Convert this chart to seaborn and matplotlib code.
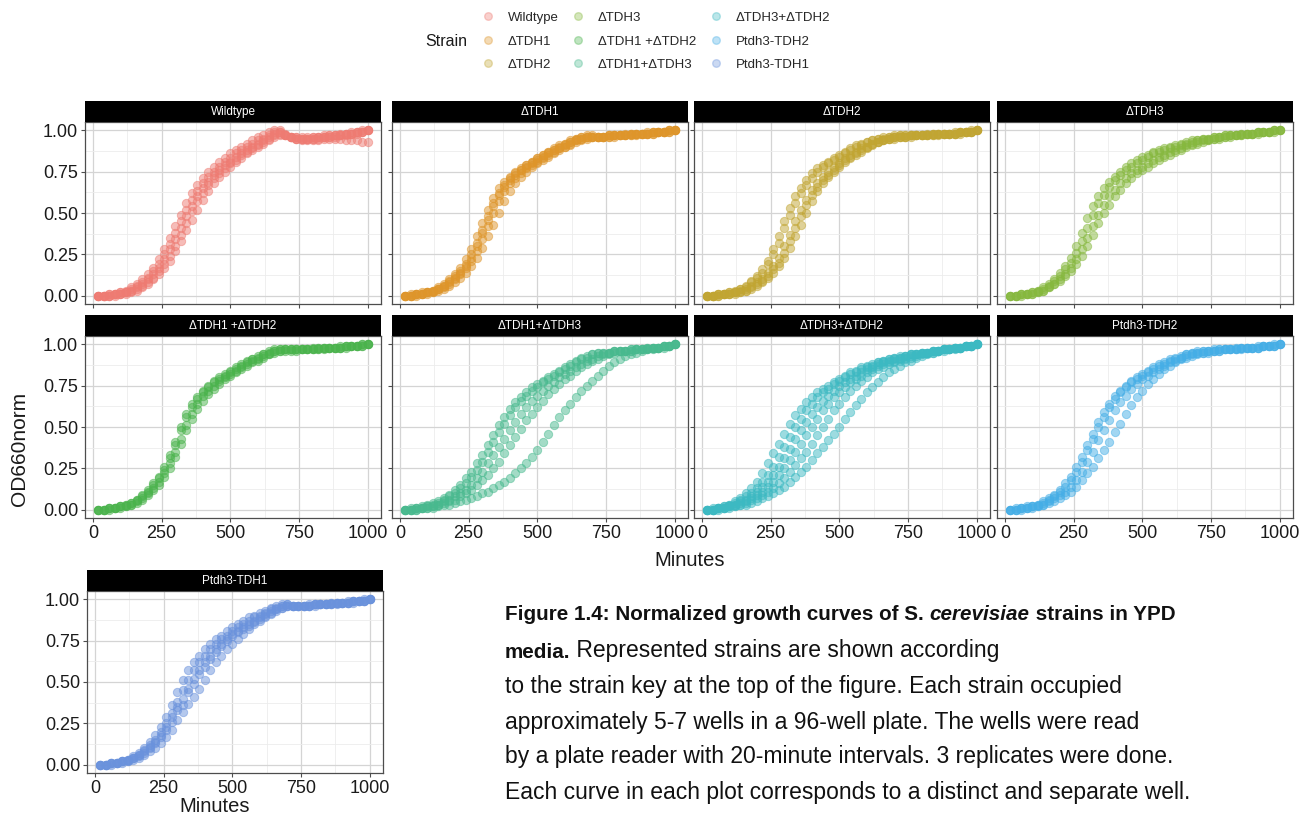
import pandas as pd
import seaborn as sns
import matplotlib.pyplot as plt
from matplotlib.lines import Line2D
from matplotlib.ticker import MultipleLocator, FormatStrFormatter

# Ablesezeitpunkte (alle 20 Minuten)
minutes = list(range(20, 1001, 20))

strains = [
    "Wildtype", "ΔTDH1", "ΔTDH2",
    "ΔTDH3", "ΔTDH1 +ΔTDH2", "ΔTDH1+ΔTDH3",
    "ΔTDH3+ΔTDH2", "Ptdh3-TDH2", "Ptdh3-TDH1",
]
colors = ["#EE7B72", "#DE952A", "#C1A532", "#86B83E", "#4AB34C",
          "#48B98E", "#3CB9C2", "#45AEE6", "#6A92DC"]

# OD660norm je Well
wildtype = [
    [.00, .00, .00, .01, .01, .02, .03, .05, .07, .10,
     .13, .17, .22, .28, .34, .41, .48, .54, .60, .65,
     .69, .73, .76, .79, .81, .84, .86, .88, .90, .92,
     .94, .96, .98, .99, .97, .96, .95, .95, .95, .95,
     .96, .96, .96, .97, .97, .98, .98, .99, .99, 1.0],
    [.00, .00, .01, .01, .02, .03, .05, .07, .10, .13,
     .17, .22, .28, .35, .42, .49, .56, .62, .67, .71,
     .75, .78, .81, .83, .86, .88, .90, .92, .94, .96,
     .97, .99, 1.0, .99, .97, .96, .96, .96, .96, .96,
     .96, .97, .97, .97, .98, .98, .99, .99, 1.0, 1.0],
    [.00, .00, .00, .00, .01, .01, .02, .03, .05, .07,
     .10, .13, .17, .21, .27, .33, .40, .46, .52, .58,
     .63, .68, .72, .75, .78, .81, .83, .86, .88, .90,
     .92, .94, .96, .97, .97, .96, .95, .94, .94, .94,
     .94, .95, .95, .95, .95, .94, .94, .94, .93, .93],
    [.00, .00, .00, .01, .01, .02, .03, .04, .06, .08,
     .11, .15, .19, .24, .30, .37, .44, .51, .57, .62,
     .67, .71, .74, .77, .80, .82, .85, .87, .89, .91,
     .93, .95, .97, .98, .97, .96, .95, .95, .95, .95,
     .95, .96, .96, .96, .97, .97, .98, .98, .99, 1.0],
    [.00, .00, .01, .01, .02, .02, .04, .06, .08, .11,
     .15, .19, .25, .31, .38, .45, .52, .58, .63, .68,
     .72, .75, .78, .81, .83, .86, .88, .90, .92, .94,
     .95, .97, .99, 1.0, .98, .96, .96, .95, .95, .96,
     .96, .96, .97, .97, .97, .98, .98, .99, .99, 1.0],
]
tdh1 = [
    [.00, .00, .01, .01, .02, .03, .04, .06, .08, .11,
     .14, .18, .23, .30, .38, .46, .54, .61, .66, .70,
     .73, .76, .78, .80, .82, .84, .86, .88, .89, .91,
     .93, .94, .95, .96, .96, .96, .96, .97, .97, .97,
     .97, .98, .98, .98, .98, .99, .99, .99, 1.0, 1.0],
    [.00, .01, .01, .02, .02, .03, .05, .07, .10, .13,
     .17, .22, .28, .36, .44, .52, .59, .65, .69, .72,
     .75, .77, .79, .81, .83, .85, .87, .89, .91, .92,
     .94, .95, .96, .97, .97, .96, .96, .97, .97, .97,
     .97, .98, .98, .98, .98, .99, .99, .99, 1.0, 1.0],
    [.00, .00, .01, .01, .02, .02, .04, .05, .07, .10,
     .13, .17, .21, .27, .34, .42, .50, .57, .63, .68,
     .71, .74, .77, .79, .81, .83, .85, .87, .89, .90,
     .92, .94, .95, .96, .96, .96, .96, .96, .97, .97,
     .97, .97, .98, .98, .98, .98, .99, .99, .99, 1.0],
    [.00, .00, .00, .01, .01, .02, .03, .04, .06, .08,
     .11, .14, .18, .23, .29, .36, .43, .50, .57, .63,
     .68, .72, .75, .78, .80, .82, .84, .86, .88, .90,
     .91, .93, .94, .95, .96, .96, .96, .96, .96, .97,
     .97, .97, .97, .98, .98, .98, .99, .99, .99, 1.0],
    [.00, .00, .01, .01, .02, .03, .04, .06, .09, .12,
     .15, .19, .25, .32, .40, .48, .56, .62, .67, .71,
     .74, .76, .79, .81, .83, .85, .87, .88, .90, .92,
     .93, .95, .96, .96, .96, .96, .96, .97, .97, .97,
     .98, .98, .98, .98, .99, .99, .99, .99, 1.0, 1.0],
]
tdh2 = [
    [.00, .00, .01, .01, .02, .03, .04, .06, .09, .12,
     .16, .21, .28, .36, .45, .53, .60, .65, .70, .74,
     .77, .79, .81, .83, .85, .87, .89, .91, .92, .93,
     .94, .95, .96, .96, .97, .97, .97, .97, .97, .97,
     .98, .98, .98, .98, .98, .99, .99, .99, 1.0, 1.0],
    [.00, .00, .01, .01, .02, .02, .04, .05, .08, .11,
     .14, .19, .25, .32, .41, .49, .56, .62, .67, .71,
     .75, .78, .80, .82, .84, .86, .88, .90, .91, .93,
     .94, .95, .95, .96, .96, .97, .97, .97, .97, .97,
     .97, .98, .98, .98, .98, .98, .99, .99, .99, 1.0],
    [.00, .00, .00, .01, .01, .02, .02, .03, .05, .07,
     .09, .12, .16, .20, .26, .33, .41, .48, .55, .61,
     .66, .70, .73, .76, .79, .82, .84, .86, .88, .90,
     .92, .93, .94, .95, .96, .96, .96, .97, .97, .97,
     .97, .97, .98, .98, .98, .98, .99, .99, .99, 1.0],
    [.00, .00, .00, .01, .01, .01, .02, .03, .04, .06,
     .08, .11, .14, .18, .23, .29, .36, .43, .50, .57,
     .63, .68, .72, .75, .78, .81, .83, .85, .87, .89,
     .91, .93, .94, .95, .95, .96, .96, .96, .97, .97,
     .97, .97, .97, .98, .98, .98, .98, .99, .99, 1.0],
    [.00, .00, .01, .01, .01, .02, .03, .04, .06, .08,
     .10, .14, .18, .23, .30, .37, .45, .52, .58, .64,
     .68, .72, .75, .78, .80, .83, .85, .87, .89, .90,
     .92, .93, .94, .95, .96, .96, .96, .97, .97, .97,
     .97, .98, .98, .98, .98, .98, .99, .99, .99, 1.0],
]
tdh3 = [
    [.00, .00, .01, .01, .02, .03, .05, .07, .10, .14,
     .18, .23, .30, .38, .47, .54, .60, .65, .69, .72,
     .75, .78, .80, .82, .84, .85, .87, .88, .89, .90,
     .91, .92, .93, .94, .94, .95, .95, .96, .96, .97,
     .97, .97, .98, .98, .98, .99, .99, .99, 1.0, 1.0],
    [.00, .00, .01, .01, .02, .03, .04, .06, .09, .12,
     .16, .20, .26, .33, .41, .49, .56, .61, .66, .70,
     .73, .76, .78, .80, .82, .84, .86, .87, .88, .89,
     .90, .91, .92, .93, .94, .95, .95, .96, .96, .97,
     .97, .97, .98, .98, .98, .99, .99, .99, 1.0, 1.0],
    [.00, .00, .00, .01, .01, .02, .03, .05, .07, .09,
     .12, .15, .19, .24, .30, .37, .44, .50, .55, .60,
     .64, .68, .71, .74, .76, .78, .80, .82, .84, .85,
     .87, .88, .90, .91, .92, .93, .94, .95, .95, .96,
     .96, .97, .97, .98, .98, .98, .99, .99, .99, 1.0],
    [.00, .00, .01, .01, .01, .02, .03, .05, .07, .10,
     .13, .17, .22, .28, .35, .42, .49, .55, .60, .64,
     .68, .71, .74, .76, .78, .80, .82, .84, .85, .87,
     .88, .89, .91, .92, .93, .94, .94, .95, .96, .96,
     .97, .97, .97, .98, .98, .99, .99, .99, 1.0, 1.0],
]
tdh1_tdh2 = [
    [.00, .00, .01, .01, .02, .03, .04, .06, .08, .11,
     .15, .19, .24, .31, .39, .48, .56, .62, .67, .71,
     .74, .77, .79, .81, .83, .85, .87, .89, .91, .92,
     .94, .95, .96, .97, .97, .97, .97, .97, .97, .97,
     .98, .98, .98, .98, .98, .99, .99, .99, 1.0, 1.0],
    [.00, .00, .01, .01, .02, .02, .03, .05, .07, .10,
     .13, .17, .22, .28, .35, .43, .51, .58, .64, .69,
     .72, .75, .78, .80, .82, .84, .86, .88, .90, .91,
     .93, .94, .96, .96, .97, .97, .97, .97, .97, .97,
     .97, .98, .98, .98, .98, .99, .99, .99, .99, 1.0],
    [.00, .00, .00, .01, .01, .02, .03, .04, .06, .09,
     .12, .15, .20, .25, .32, .40, .48, .55, .61, .66,
     .70, .73, .76, .79, .81, .83, .85, .87, .89, .90,
     .92, .94, .95, .96, .96, .96, .96, .97, .97, .97,
     .97, .97, .98, .98, .98, .98, .99, .99, .99, 1.0],
    [.00, .00, .01, .01, .02, .03, .04, .06, .09, .12,
     .16, .20, .26, .33, .41, .50, .58, .64, .68, .72,
     .75, .78, .80, .82, .84, .86, .88, .90, .91, .93,
     .94, .96, .97, .97, .97, .97, .97, .97, .97, .98,
     .98, .98, .98, .98, .99, .99, .99, .99, 1.0, 1.0],
]
tdh1_tdh3 = [
    [.00, .01, .01, .02, .03, .04, .05, .07, .09, .12,
     .15, .19, .23, .28, .33, .39, .45, .51, .56, .61,
     .65, .68, .71, .74, .76, .78, .80, .82, .84, .86,
     .88, .90, .92, .93, .94, .95, .95, .95, .96, .96,
     .96, .96, .97, .97, .97, .98, .98, .99, .99, 1.0],
    [.00, .00, .01, .01, .02, .03, .04, .06, .08, .10,
     .13, .16, .20, .24, .29, .35, .41, .47, .52, .57,
     .62, .66, .69, .72, .74, .77, .79, .81, .83, .85,
     .87, .89, .91, .92, .94, .95, .95, .95, .96, .96,
     .96, .96, .97, .97, .97, .98, .98, .99, .99, 1.0],
    [.00, .00, .01, .01, .02, .02, .03, .05, .06, .08,
     .10, .12, .15, .19, .23, .28, .33, .38, .43, .48,
     .53, .58, .62, .66, .69, .72, .75, .77, .80, .82,
     .84, .86, .88, .90, .91, .93, .94, .95, .96, .96,
     .96, .97, .97, .97, .98, .98, .98, .99, .99, 1.0],
    [.00, .00, .00, .01, .01, .02, .03, .04, .05, .06,
     .08, .10, .12, .15, .18, .21, .25, .29, .34, .39,
     .44, .49, .54, .58, .62, .66, .70, .73, .76, .79,
     .81, .84, .86, .88, .90, .91, .93, .94, .95, .96,
     .96, .97, .97, .97, .98, .98, .98, .99, .99, 1.0],
    [.00, .00, .00, .01, .01, .01, .02, .03, .03, .04,
     .05, .06, .07, .08, .10, .11, .13, .15, .17, .19,
     .22, .25, .28, .32, .36, .41, .46, .51, .56, .60,
     .64, .68, .72, .75, .78, .81, .84, .87, .89, .91,
     .93, .94, .95, .96, .97, .97, .98, .98, .99, 1.0],
]
tdh3_tdh2 = [
    [.00, .01, .01, .02, .03, .05, .07, .10, .13, .17,
     .22, .28, .34, .40, .46, .52, .57, .61, .65, .68,
     .71, .73, .75, .77, .79, .81, .83, .84, .86, .87,
     .88, .89, .90, .91, .92, .93, .93, .94, .94, .95,
     .95, .96, .96, .97, .97, .98, .98, .99, .99, 1.0],
    [.00, .00, .01, .02, .03, .04, .06, .08, .10, .13,
     .17, .21, .26, .32, .38, .44, .50, .55, .60, .64,
     .68, .71, .73, .76, .78, .80, .82, .83, .85, .86,
     .87, .89, .90, .91, .92, .92, .93, .94, .94, .95,
     .95, .96, .96, .97, .97, .98, .98, .99, .99, 1.0],
    [.00, .00, .01, .01, .02, .03, .05, .06, .08, .11,
     .14, .17, .21, .26, .31, .37, .43, .48, .53, .58,
     .62, .66, .69, .72, .75, .77, .79, .81, .83, .85,
     .86, .88, .89, .90, .91, .92, .93, .94, .94, .95,
     .95, .96, .96, .97, .97, .98, .98, .99, .99, 1.0],
    [.00, .00, .01, .01, .02, .03, .04, .05, .07, .09,
     .11, .14, .17, .21, .25, .30, .35, .40, .45, .50,
     .55, .60, .64, .68, .71, .74, .77, .79, .81, .83,
     .85, .87, .88, .89, .90, .91, .92, .93, .94, .95,
     .95, .96, .96, .97, .97, .98, .98, .99, .99, 1.0],
    [.00, .00, .01, .01, .02, .02, .03, .04, .06, .07,
     .09, .11, .13, .16, .19, .23, .27, .31, .35, .40,
     .45, .50, .55, .60, .64, .68, .72, .75, .78, .80,
     .83, .85, .86, .88, .89, .90, .91, .92, .93, .94,
     .95, .95, .96, .97, .97, .98, .98, .99, .99, 1.0],
    [.00, .00, .00, .01, .01, .02, .03, .03, .04, .05,
     .07, .08, .10, .12, .14, .17, .20, .23, .26, .30,
     .34, .38, .42, .46, .50, .55, .59, .63, .67, .71,
     .74, .77, .80, .83, .85, .87, .89, .90, .92, .93,
     .94, .95, .96, .96, .97, .97, .98, .99, .99, 1.0],
]
ptdh3_tdh2 = [
    [.00, .00, .01, .01, .02, .03, .04, .06, .08, .11,
     .14, .18, .23, .29, .36, .43, .50, .56, .62, .67,
     .71, .74, .77, .79, .81, .83, .85, .87, .88, .90,
     .91, .92, .94, .95, .95, .96, .96, .96, .97, .97,
     .97, .97, .98, .98, .98, .98, .99, .99, .99, 1.0],
    [.00, .01, .01, .02, .02, .03, .05, .07, .09, .12,
     .16, .20, .26, .32, .39, .46, .53, .59, .64, .69,
     .72, .75, .78, .80, .82, .84, .86, .88, .89, .91,
     .92, .93, .94, .95, .96, .96, .96, .97, .97, .97,
     .97, .98, .98, .98, .98, .99, .99, .99, 1.0, 1.0],
    [.00, .00, .01, .01, .02, .02, .03, .05, .07, .09,
     .11, .14, .18, .23, .29, .35, .42, .48, .54, .60,
     .65, .69, .73, .76, .79, .81, .83, .85, .87, .89,
     .90, .92, .93, .94, .95, .95, .96, .96, .96, .97,
     .97, .97, .98, .98, .98, .98, .99, .99, .99, 1.0],
    [.00, .00, .00, .01, .01, .02, .03, .04, .05, .07,
     .09, .11, .14, .18, .22, .26, .31, .36, .41, .47,
     .52, .58, .63, .68, .72, .76, .79, .82, .85, .87,
     .89, .91, .92, .93, .94, .95, .95, .96, .96, .97,
     .97, .97, .97, .98, .98, .98, .99, .99, .99, 1.0],
]
ptdh3_tdh1 = [
    [.00, .00, .01, .01, .02, .03, .05, .07, .10, .14,
     .18, .23, .29, .36, .44, .51, .57, .62, .66, .70,
     .73, .76, .78, .81, .83, .85, .87, .89, .90, .92,
     .93, .95, .96, .97, .97, .96, .96, .96, .97, .97,
     .97, .97, .98, .98, .98, .99, .99, .99, 1.0, 1.0],
    [.00, .00, .01, .01, .02, .03, .04, .06, .09, .12,
     .15, .20, .25, .31, .38, .45, .51, .57, .62, .66,
     .70, .73, .76, .78, .81, .83, .85, .87, .89, .90,
     .92, .94, .95, .96, .97, .96, .96, .96, .96, .97,
     .97, .97, .97, .98, .98, .98, .99, .99, .99, 1.0],
    [.00, .00, .01, .01, .02, .02, .04, .05, .07, .10,
     .13, .17, .21, .26, .33, .40, .46, .52, .57, .62,
     .66, .70, .73, .76, .79, .81, .83, .85, .87, .89,
     .91, .93, .94, .96, .96, .96, .96, .96, .96, .97,
     .97, .97, .97, .98, .98, .98, .99, .99, .99, 1.0],
    [.00, .00, .00, .01, .01, .02, .03, .04, .06, .08,
     .10, .13, .17, .21, .27, .32, .37, .41, .46, .51,
     .57, .62, .66, .70, .73, .76, .79, .82, .85, .87,
     .89, .91, .93, .95, .96, .96, .96, .96, .96, .96,
     .97, .97, .97, .97, .98, .98, .98, .99, .99, 1.0],
    [.00, .00, .01, .01, .02, .03, .04, .06, .08, .11,
     .14, .18, .23, .29, .35, .36, .44, .49, .55, .59,
     .64, .68, .72, .75, .78, .80, .82, .84, .86, .88,
     .90, .92, .94, .95, .96, .96, .96, .96, .96, .97,
     .97, .97, .98, .98, .98, .98, .99, .99, .99, 1.0],
]
curves = [wildtype, tdh1, tdh2, tdh3, tdh1_tdh2, tdh1_tdh3,
          tdh3_tdh2, ptdh3_tdh2, ptdh3_tdh1]

# Long-Format
records = []
for strain, wells in zip(strains, curves):
    for w, vals in enumerate(wells):
        assert len(vals) == len(minutes), (strain, w)
        for m, v in zip(minutes, vals):
            records.append({"Strain": strain, "Well": w, "Minutes": m, "OD660norm": v})
df = pd.DataFrame(records)

sns.set_style("white")
plt.rcParams["font.family"] = ["Liberation Sans", "DejaVu Sans"]

W, H = 1313, 816
fig = plt.figure(figsize=(W / 100, H / 100), dpi=100)


def box(x, y, w, h):
    return [x / W, 1 - (y + h) / H, w / W, h / H]


# Panel-Positionen (Pixel: links, oben)
pos = [(85, 122), (392, 122), (694, 122), (997, 122),
       (85, 336), (392, 336), (694, 336), (997, 336),
       (87, 591)]
pw, ph, sh = 296, 182, 21

for i, (strain, col) in enumerate(zip(strains, colors)):
    x0, y0 = pos[i]
    ax = fig.add_axes(box(x0, y0, pw, ph))
    sub = df[df["Strain"] == strain]
    sns.scatterplot(data=sub, x="Minutes", y="OD660norm", color=col,
                    alpha=0.5, s=36, edgecolor=col, linewidth=0.7,
                    legend=False, ax=ax, zorder=3)
    ax.set_xlim(-29, 1049)
    ax.set_ylim(-0.05, 1.05)
    ax.xaxis.set_major_locator(MultipleLocator(250))
    ax.xaxis.set_minor_locator(MultipleLocator(125))
    ax.yaxis.set_major_locator(MultipleLocator(0.25))
    ax.yaxis.set_minor_locator(MultipleLocator(0.125))
    ax.yaxis.set_major_formatter(FormatStrFormatter("%.2f"))
    ax.grid(which="major", color="#D4D4D4", lw=0.9)
    ax.grid(which="minor", color="#ECECEC", lw=0.6)
    ax.set_axisbelow(True)
    for sp in ax.spines.values():
        sp.set_color("#4D4D4D")
        sp.set_linewidth(0.9)
    ax.tick_params(which="major", length=3, width=0.8, color="#4D4D4D",
                   labelsize=13, labelcolor="#1A1A1A", pad=2,
                   left=True, bottom=True)
    ax.tick_params(which="minor", length=0)
    ax.set_xlabel("")
    ax.set_ylabel("")
    if i not in (0, 4, 8):
        ax.set_yticklabels([])
    if i < 4:
        ax.set_xticklabels([])

    # Streifen mit Titel
    sax = fig.add_axes(box(x0, y0 - sh, pw, sh))
    sax.set_facecolor("black")
    sax.set_xticks([])
    sax.set_yticks([])
    for sp in sax.spines.values():
        sp.set_visible(False)
    sax.text(0.5, 0.48, strain, color="white", fontsize=8.5,
             ha="center", va="center", transform=sax.transAxes)

# Achsenbeschriftungen
fig.text(690 / W, 1 - 561 / H, "Minutes", fontsize=14.5, ha="center", va="center", color="#1A1A1A")
fig.text(215 / W, 1 - 806 / H, "Minutes", fontsize=14.5, ha="center", va="center", color="#1A1A1A")
fig.text(20 / W, 1 - 449 / H, "OD660norm", fontsize=15, rotation=90, ha="center", va="center", color="#1A1A1A")

# Legende
handles = [Line2D([], [], marker="o", ls="", color=c, alpha=0.35, markersize=5.5)
           for c in colors]
fig.legend(handles, strains, ncol=3, loc="upper left",
           bbox_to_anchor=(468 / W, 1 - 0 / H), frameon=False,
           fontsize=9.5, handletextpad=0.9, columnspacing=0.9,
           labelspacing=0.85, handlelength=1.2)
fig.text(446 / W, 1 - 42 / H, "Strain", fontsize=11.5, ha="center", va="center", color="#1A1A1A")

# Bildunterschrift
cap = fig.add_axes([0, 0, 1, 1])
cap.axis("off")
cfont = ["Liberation Sans Narrow", "Liberation Sans", "DejaVu Sans"]
size_bold, size_reg = 14.9, 16.5


def chain(parts, x, y):
    prev = None
    for txt, weight, style in parts:
        size = size_bold if weight == "bold" else size_reg
        if prev is None:
            prev = cap.text(x / W, 1 - y / H, txt, fontsize=size, family=cfont,
                            weight=weight, style=style, ha="left", va="center",
                            color="#111111", transform=cap.transAxes)
        else:
            prev = cap.annotate(txt, xy=(1, 0), xycoords=prev, va="bottom",
                                ha="left", fontsize=size, family=cfont,
                                weight=weight, style=style, color="#111111")


chain([("Figure 1.4: Normalized growth curves of S. ", "bold", "normal"),
       ("cerevisiae", "bold", "italic"),
       (" strains in YPD", "bold", "normal")], 505, 615)
chain([("media.", "bold", "normal"),
       (" Represented strains are shown according", "normal", "normal")], 505, 652)
cap_lines = [
    "to the strain key at the top of the figure. Each strain occupied",
    "approximately 5-7 wells in a 96-well plate. The wells were read",
    "by a plate reader with 20-minute intervals. 3 replicates were done.",
    "Each curve in each plot corresponds to a distinct and separate well.",
]
for k, line in enumerate(cap_lines):
    chain([(line, "normal", "normal")], 505, 687 + k * 35)

fig.savefig("out.png", dpi=100)
